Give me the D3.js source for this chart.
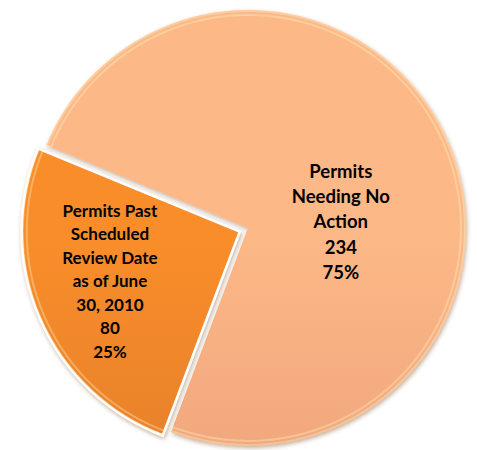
<!DOCTYPE html>
<html>
<head>
<meta charset="utf-8">
<script src="https://cdn.jsdelivr.net/npm/d3@7"></script>
<style>
  html, body { margin: 0; padding: 0; background: #fff; }
  svg { display: block; }
  text { font-family: Lato, "Open Sans", sans-serif; font-weight: bold; fill: #000; }
</style>
</head>
<body>
<svg id="chart"></svg>
<script>
// data
const categories = [
  ['Permits', 'Needing No', 'Action'],
  ['Permits Past', 'Scheduled', 'Review Date', 'as of June', '30, 2010']
];
const counts = [234, 80];
const sliceTop = ['#fdb887', '#f98d2c'];
const sliceBottom = ['#e39672', '#d47428'];

const width = 477;
const height = 450;
const cx = 248;
const cy = 228;
const radius = 218;
const explode = [0, 9];

const svg = d3.select('#chart').attr('width', width).attr('height', height);
const defs = svg.append('defs');

const total = d3.sum(counts);

// gradients, one per slice
counts.forEach((c, i) => {
  const g = defs.append('linearGradient')
    .attr('id', 'grad' + i)
    .attr('gradientUnits', 'userSpaceOnUse')
    .attr('x1', 0).attr('y1', cy - radius)
    .attr('x2', 0).attr('y2', cy + radius);
  g.append('stop').attr('offset', '0%').attr('stop-color', sliceTop[i]);
  g.append('stop').attr('offset', '100%').attr('stop-color', sliceBottom[i]);
});

const shadow = defs.append('filter').attr('id', 'shadow')
  .attr('x', '-10%').attr('y', '-10%').attr('width', '120%').attr('height', '120%');
shadow.append('feDropShadow')
  .attr('dx', 1).attr('dy', 2).attr('stdDeviation', 2)
  .attr('flood-color', '#7a4a20').attr('flood-opacity', 0.45);

const startDeg = 292.4;
const pie = d3.pie()
  .sort(null)
  .value(d => d)
  .startAngle(startDeg * Math.PI / 180)
  .endAngle((startDeg + 360) * Math.PI / 180);

const arcs = pie(counts);
const arc = d3.arc().innerRadius(0).outerRadius(radius);

const g = svg.append('g').attr('transform', 'translate(' + cx + ',' + cy + ')');

const slices = g.selectAll('g.slice')
  .data(arcs)
  .enter()
  .append('g')
  .attr('class', 'slice')
  .attr('transform', (d, i) => {
    const mid = (d.startAngle + d.endAngle) / 2;
    const dx = Math.sin(mid) * explode[i];
    const dy = -Math.cos(mid) * explode[i];
    return 'translate(' + dx + ',' + dy + ')';
  });

slices.append('path')
  .attr('d', arc)
  .attr('fill', (d, i) => 'url(#grad' + i + ')')
  .attr('stroke', (d, i) => i === 1 ? '#fff' : 'none')
  .attr('stroke-width', 2.5)
  .attr('filter', 'url(#shadow)');

// soft highlight along the top rim
slices.append('path')
  .attr('d', d3.arc().innerRadius(radius - 5).outerRadius(radius - 1))
  .attr('fill', 'none')
  .attr('stroke', '#fff3c8')
  .attr('stroke-opacity', 0.35)
  .attr('stroke-width', 2);

// labels
const labelAt = [
  { angle: 86.3, r: 93, size: 18.5, step: 25.4 },
  { angle: 249, r: 139, size: 17, step: 23.5 }
];

slices.each(function (d, i) {
  const spec = labelAt[i];
  const a = spec.angle * Math.PI / 180;
  const lx = Math.sin(a) * spec.r;
  const ly = -Math.cos(a) * spec.r;
  const pct = Math.round(d.data / total * 100) + '%';
  const lines = categories[i].concat([String(d.data), pct]);
  const t = d3.select(this).append('text')
    .attr('text-anchor', 'middle')
    .style('font-size', spec.size + 'px');
  const y0 = ly - (lines.length - 1) * spec.step / 2;
  lines.forEach((line, j) => {
    t.append('tspan')
      .attr('x', lx)
      .attr('y', y0 + j * spec.step)
      .attr('dy', '0.35em')
      .text(line);
  });
});
</script>
</body>
</html>
